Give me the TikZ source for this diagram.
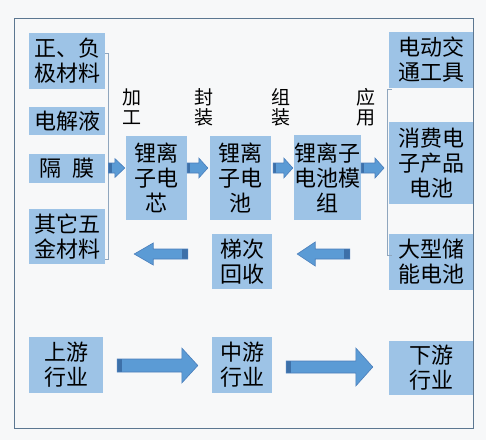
\documentclass[tikz,border=0pt]{standalone}
\usepackage{fontspec}
\setmainfont{Noto Sans CJK SC}
\usetikzlibrary{calc}
\definecolor{boxblue}{HTML}{9DC3E6}
\definecolor{arrblue}{HTML}{5B9BD5}
\definecolor{arredge}{HTML}{4A7EBB}
\definecolor{arrdark}{HTML}{3D70A8}
\definecolor{framec}{HTML}{5C7791}
\definecolor{brackc}{HTML}{8FA6BE}
\definecolor{bgc}{HTML}{F7F8F9}
\newcommand\harrow[5]{%
  \fill[arrblue] let \p1=(#1), \p2=(#2) in
    (\x1,{\y1+#3}) -- ({\x2-(#5)},{\y1+#3}) -- ({\x2-(#5)},{\y1+#4}) -- (\x2,\y1)
    -- ({\x2-(#5)},{\y1-#4}) -- ({\x2-(#5)},{\y1-#3}) -- (\x1,{\y1-#3}) -- cycle;
  \fill[arrdark] let \p1=(#1) in (\x1,{\y1+#3}) rectangle ({\x1+0.3*(#5)},{\y1-#3});
  \draw[arredge, line width=0.6pt, line join=miter] let \p1=(#1), \p2=(#2) in
    (\x1,{\y1+#3}) -- ({\x2-(#5)},{\y1+#3}) -- ({\x2-(#5)},{\y1+#4}) -- (\x2,\y1)
    -- ({\x2-(#5)},{\y1-#4}) -- ({\x2-(#5)},{\y1-#3}) -- (\x1,{\y1-#3}) -- cycle;}
\tikzset{
  box/.style={fill=boxblue, draw=none, inner sep=0pt, align=center, text=black,
    font=\fontsize{22}{25}\selectfont},
  lab/.style={inner sep=0pt, align=center, text=black, font=\fontsize{19}{20}\selectfont},
  brk/.style={draw=brackc, line width=0.7pt},
}
\begin{document}
\begin{tikzpicture}[x=1pt,y=-1pt]
\useasboundingbox (0,0) rectangle (486,440);
\fill[bgc] (0,0) rectangle (486,440);
\draw[framec, line width=0.8pt] (14,18) rectangle (473,428);

% left materials
\node[box, minimum width=76pt, minimum height=56pt] (m1) at (67,61) {正、负\\极材料};
\node[box, minimum width=76pt, minimum height=28pt] (m2) at (67,121) {电解液};
\node[box, minimum width=76pt, minimum height=29pt] (m3) at (67,168.5) {隔\hspace{11pt}膜};
\node[box, minimum width=76pt, minimum height=55pt] (m4) at (67,236.5) {其它五\\金材料};

% middle chain
\node[box, minimum width=61pt, minimum height=84pt] (c1) at (156.5,178) {锂离\\子电\\芯};
\node[box, minimum width=61pt, minimum height=84pt] (c2) at (240.5,178) {锂离\\子电\\池};
\node[box, minimum width=67pt, minimum height=85pt] (c3) at (327.5,177.5) {锂离子\\电池模\\组};

% applications
\node[box, minimum width=84pt, minimum height=56pt] (a1) at (431,60) {电动交\\通工具};
\node[box, minimum width=84pt, minimum height=82pt] (a2) at (431,163) {消费电\\子产品\\电池};
\node[box, minimum width=84pt, minimum height=56pt] (a3) at (431,262) {大型储\\能电池};

% recycling
\node[box, minimum width=60pt, minimum height=55pt] (r) at (242,261.5) {梯次\\回收};

% industry row
\node[box, minimum width=74pt, minimum height=56pt] (u) at (66,365) {上游\\行业};
\node[box, minimum width=60pt, minimum height=56pt] (mid) at (242,365) {中游\\行业};
\node[box, minimum width=84pt, minimum height=54pt] (d) at (431,368) {下游\\行业};

% labels
\node[lab] (l1) at (132,107) {加\\工};
\node[lab] (l2) at (204,107) {封\\装};
\node[lab] (l3) at (281,107) {组\\装};
\node[lab] (l4) at (366,107) {应\\用};

% brackets
\coordinate (bl) at (108.5,168);
\draw[brk] (m1.east |- 0,53) -- (108.5,53) -- (bl) -- (108.5,259) -- (m4.east |- 0,259);
\coordinate (bri) at (384,168);
\draw[brk] (392,89) -- (387,89) -- (387,255) -- (392,255);

% arrows
\harrow{bl}{$(c1.west)+(-1,0)$}{5pt}{9.5pt}{10pt}
\harrow{$(c1.east)+(0,-10)$}{$(c2.west)+(-2,0)$}{5pt}{10pt}{9pt}
\harrow{$(c2.east)+(2,-10)$}{$(c3.west)+(-1,0)$}{5pt}{10pt}{9pt}
\harrow{$(c3.east)+(0,-9.5)$}{bri}{5pt}{10pt}{9pt}
\harrow{$(a3.west)+(-39,-8)$}{$(r.east)+(25,0)$}{5pt}{12pt}{-18pt}
\harrow{$(r.west)+(-24,-7.5)$}{$(m4.east)+(29,0)$}{5pt}{11pt}{-19pt}
\harrow{$(u.east)+(14,0.5)$}{$(mid.west)+(-14,0)$}{6.5pt}{17.5pt}{16pt}
\harrow{$(mid.east)+(14,2)$}{$(d.west)+(-16,0)$}{6pt}{19pt}{17pt}
\end{tikzpicture}
\end{document}
